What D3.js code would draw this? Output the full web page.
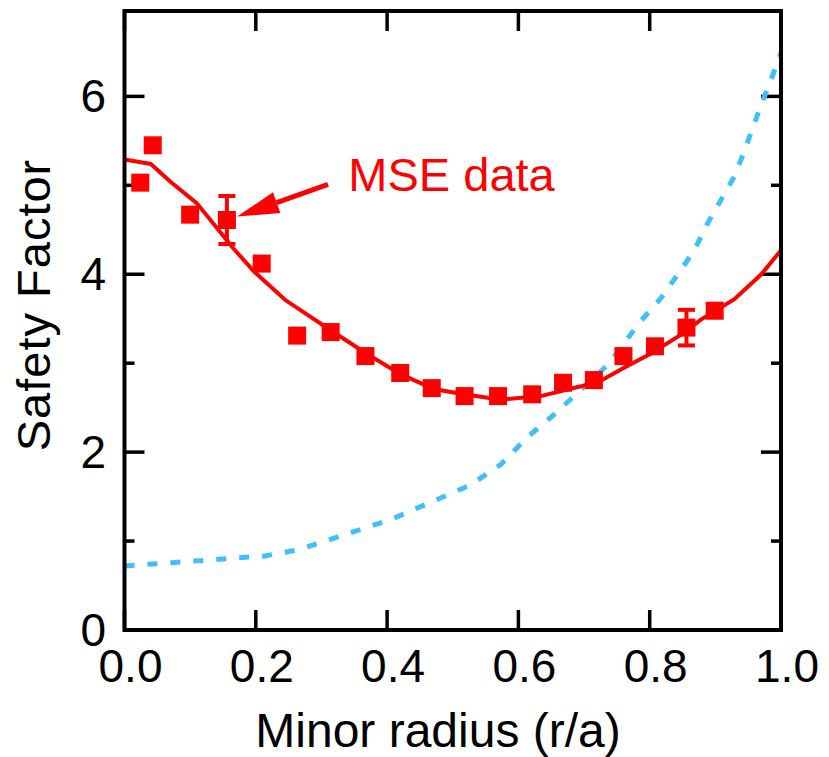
<!DOCTYPE html>
<html>
<head>
  <meta charset="utf-8">
  <title>Safety Factor</title>
  <script src="https://d3js.org/d3.v7.min.js"></script>
  <style type="text/css">
    body { margin: 0; background: #fff; }
    text { font-family: "Liberation Sans", Arial, sans-serif; }
  </style>
</head>
<body>
<script>

var width = 829;
var height = 757;

// MSE measurements (r/a, q) with error bars on two of them
var mseR = [0.024, 0.043, 0.100, 0.156, 0.209, 0.263, 0.314, 0.367, 0.420, 0.468,
            0.518, 0.569, 0.621, 0.668, 0.715, 0.760, 0.808, 0.856, 0.899];
var mseQ = [5.03, 5.45, 4.67, 4.61, 4.12, 3.31, 3.35, 3.08, 2.89, 2.72,
            2.63, 2.63, 2.65, 2.78, 2.81, 3.08, 3.19, 3.40, 3.59];
var mseErr = [0, 0, 0, 0.27, 0, 0, 0, 0, 0, 0,
              0, 0, 0, 0, 0, 0, 0, 0.2, 0];

// fitted q profile (red solid)
var fitR = [0, 0.04, 0.07, 0.11, 0.166, 0.196, 0.245, 0.314, 0.37, 0.42, 0.471, 0.51,
            0.573, 0.634, 0.695, 0.725, 0.756, 0.802, 0.852, 0.878, 0.929, 0.97, 1.0];
var fitQ = [5.29, 5.24, 5.04, 4.80, 4.29, 4.04, 3.71, 3.37, 3.10, 2.88, 2.71, 2.66,
            2.59, 2.63, 2.74, 2.80, 2.93, 3.11, 3.34, 3.49, 3.72, 4.0, 4.27];

// other q profile (blue dashed)
var dashR = [0, 0.115, 0.19, 0.212, 0.263, 0.293, 0.405, 0.527, 0.573, 0.614, 0.654, 0.695,
             0.736, 0.786, 0.817, 0.842, 0.868, 0.888, 0.929, 0.944, 0.969, 0.985, 1.0];
var dashQ = [0.72, 0.78, 0.82, 0.83, 0.90, 0.97, 1.24, 1.63, 1.86, 2.17, 2.42, 2.70,
             2.98, 3.47, 3.73, 3.99, 4.27, 4.57, 5.10, 5.38, 5.89, 6.19, 6.49];

var xTicks = [0, 0.2, 0.4, 0.6, 0.8, 1.0];
var yMajor = [0, 2, 4, 6];
var yMinor = [1, 3, 5];

var svg = d3.select("body").append("svg").attr("width", width).attr("height", height);

var x = d3.scaleLinear().domain([0, 1]).range([124.5, 781]);
var y = d3.scaleLinear().domain([0, 6.96]).range([630, 11]);

var red = "#ff0000";
var blue = "#40bfff";

// ticks pointing inward on all four sides
var axes = svg.append("g").attr("stroke", "#000").attr("stroke-width", 3.5);
xTicks.forEach(function (t) {
  axes.append("line").attr("x1", x(t)).attr("x2", x(t)).attr("y1", y(0)).attr("y2", y(0) - 20);
  axes.append("line").attr("x1", x(t)).attr("x2", x(t)).attr("y1", y.range()[1]).attr("y2", y.range()[1] + 20);
});
yMajor.forEach(function (t) {
  axes.append("line").attr("x1", x(0)).attr("x2", x(0) + 20).attr("y1", y(t)).attr("y2", y(t));
  axes.append("line").attr("x1", x(1)).attr("x2", x(1) - 20).attr("y1", y(t)).attr("y2", y(t));
});
yMinor.forEach(function (t) {
  axes.append("line").attr("x1", x(0)).attr("x2", x(0) + 10).attr("y1", y(t)).attr("y2", y(t));
  axes.append("line").attr("x1", x(1)).attr("x2", x(1) - 10).attr("y1", y(t)).attr("y2", y(t));
});

// tick labels
svg.selectAll(".xl").data(xTicks).enter().append("text")
  .attr("x", function (d) { return x(d) + 6; })
  .attr("y", 682)
  .attr("text-anchor", "middle")
  .attr("font-size", 46)
  .text(function (d) { return d3.format(".1f")(d); });

svg.selectAll(".yl").data(yMajor).enter().append("text")
  .attr("x", 106)
  .attr("y", function (d) { return y(d) + 16; })
  .attr("text-anchor", "end")
  .attr("font-size", 46)
  .text(function (d) { return d; });

// axis titles
svg.append("text")
  .attr("x", 438).attr("y", 747)
  .attr("text-anchor", "middle")
  .attr("font-size", 48)
  .text("Minor radius (r/a)");

svg.append("text")
  .attr("transform", "translate(50,305) rotate(-90)")
  .attr("text-anchor", "middle")
  .attr("font-size", 47)
  .attr("letter-spacing", 1)
  .text("Safety Factor");

// lines
var line = d3.line()
  .x(function (d) { return x(d[0]); })
  .y(function (d) { return y(d[1]); });

svg.append("path")
  .datum(d3.zip(dashR, dashQ))
  .attr("d", line)
  .attr("fill", "none")
  .attr("stroke", blue)
  .attr("stroke-width", 5)
  .attr("stroke-dasharray", "10,13");

svg.append("path")
  .datum(d3.zip(fitR, fitQ))
  .attr("d", line)
  .attr("fill", "none")
  .attr("stroke", red)
  .attr("stroke-width", 4);

// error bars
var pts = d3.range(mseR.length).map(function (i) { return { r: mseR[i], q: mseQ[i], e: mseErr[i] }; });
var eb = svg.append("g").attr("stroke", red).attr("stroke-width", 4);
pts.filter(function (d) { return d.e > 0; }).forEach(function (d) {
  eb.append("line").attr("x1", x(d.r)).attr("x2", x(d.r)).attr("y1", y(d.q - d.e)).attr("y2", y(d.q + d.e));
  eb.append("line").attr("x1", x(d.r) - 8.5).attr("x2", x(d.r) + 8.5).attr("y1", y(d.q - d.e)).attr("y2", y(d.q - d.e));
  eb.append("line").attr("x1", x(d.r) - 8.5).attr("x2", x(d.r) + 8.5).attr("y1", y(d.q + d.e)).attr("y2", y(d.q + d.e));
});

// square markers
var sz = 18;
svg.selectAll(".pt").data(pts).enter().append("rect")
  .attr("x", function (d) { return x(d.r) - sz / 2; })
  .attr("y", function (d) { return y(d.q) - sz / 2; })
  .attr("width", sz).attr("height", sz)
  .attr("fill", red);

// frame
svg.append("rect")
  .attr("x", x(0)).attr("y", y.range()[1])
  .attr("width", x(1) - x(0)).attr("height", y(0) - y.range()[1])
  .attr("fill", "none").attr("stroke", "#000").attr("stroke-width", 4);

// annotation: label + arrow pointing to the data
var tail = [0.310, 5.01], tip = [0.1715, 4.648];
var tx = x(tip[0]), ty = y(tip[1]), sx = x(tail[0]), sy = y(tail[1]);
var ang = Math.atan2(ty - sy, tx - sx);
var headLen = 42, headW = 11;
var bx = tx - headLen * Math.cos(ang), by = ty - headLen * Math.sin(ang);
svg.append("line")
  .attr("x1", sx).attr("y1", sy).attr("x2", bx).attr("y2", by)
  .attr("stroke", red).attr("stroke-width", 5);
svg.append("polygon")
  .attr("points", [
    [tx, ty],
    [bx + headW * Math.sin(ang), by - headW * Math.cos(ang)],
    [bx - headW * Math.sin(ang), by + headW * Math.cos(ang)]
  ].map(function (p) { return p.join(","); }).join(" "))
  .attr("fill", red);

svg.append("text")
  .attr("x", x(0.341)).attr("y", y(4.94))
  .attr("font-size", 47)
  .attr("fill", red)
  .text("MSE data");

</script>
</body>
</html>
